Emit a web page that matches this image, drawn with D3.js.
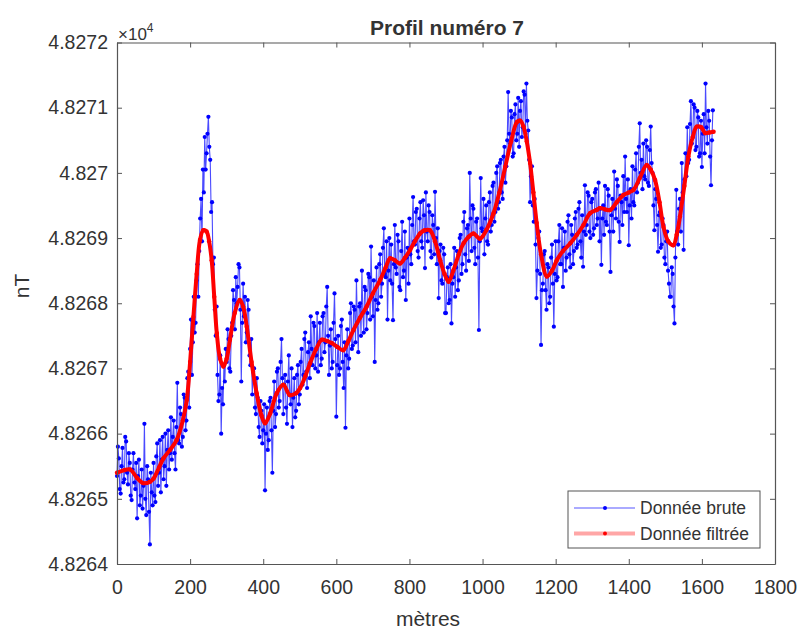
<!DOCTYPE html>
<html><head><meta charset="utf-8">
<script src="https://cdn.jsdelivr.net/npm/d3@7"></script>
<style>
body{margin:0;background:#fff}
svg{display:block}
text{font-family:"Liberation Sans",Arial,Helvetica,sans-serif;fill:#333}
</style>
</head><body><svg id="c" width="799" height="631"></svg>
<script>
// ---------- data ----------
const titleText = "Profil numéro 7";
const xLabelText = "mètres";
const yLabelText = "nT";
const legendLabels = ["Donnée brute", "Donnée filtrée"];
const xTicks = [0, 200, 400, 600, 800, 1000, 1200, 1400, 1600, 1800];
const yTicks = [48264, 48265, 48266, 48267, 48268, 48269, 48270, 48271, 48272];
const rawStep = 2.5; // metres between raw samples
const rawValues = [
48265.35,48265.80,48265.62,48265.15,48265.08,48265.50,48265.78,48265.25,48265.30,48265.95,48265.88,48265.40,48265.22,48265.70,48265.55,48265.05,48264.98,48265.45,48265.70,48265.25,
48265.15,48265.55,48264.70,48265.35,48265.60,48264.90,48265.05,48265.45,48264.85,48265.20,48266.15,48265.00,48264.75,48265.50,48265.30,48264.80,48264.30,48265.40,48265.10,48264.90,
48265.55,48265.05,48264.95,48265.65,48265.85,48265.20,48265.40,48265.90,48265.10,48265.60,48265.95,48265.30,48265.50,48266.00,48265.20,48265.75,48266.05,48265.45,48265.70,48266.25,
48265.60,48265.95,48266.20,48265.70,48265.45,48266.10,48266.78,48265.90,48265.85,48266.40,48266.30,48265.80,48265.95,48266.60,48266.55,48266.05,48266.20,48266.85,48266.95,48266.40,
48267.30,48267.75,48266.90,48267.40,48268.10,48267.55,48267.70,48268.35,48268.60,48268.10,48268.80,48269.30,48269.60,48268.95,48270.05,48269.70,48270.55,48270.05,48270.30,48270.60,
48270.86,48270.40,48270.20,48269.40,48269.55,48268.60,48268.70,48267.90,48267.50,48267.95,48266.90,48266.50,48266.60,48267.20,48266.00,48266.70,48266.45,48267.05,48266.80,48267.30,
48267.10,48267.60,48267.45,48267.00,48266.95,48267.50,48267.70,48268.20,48268.05,48267.60,48268.40,48268.00,48268.25,48268.60,48268.55,48267.90,48266.80,48267.70,48268.30,48267.80,
48268.10,48267.40,48267.55,48268.05,48267.90,48267.20,48267.05,48267.45,48266.60,48266.95,48267.00,48266.40,48266.30,48266.85,48266.55,48266.10,48265.95,48266.50,48266.35,48265.85,
48266.05,48266.45,48265.13,48266.00,48266.40,48265.75,48265.90,48266.50,48266.55,48266.05,48265.40,48266.35,48266.80,48266.10,48266.30,48266.95,48267.00,48266.40,48266.50,48267.10,
48267.45,48266.85,48266.30,48266.75,48266.90,48266.40,48266.15,48266.80,48267.20,48266.60,48266.45,48267.00,48266.10,48266.55,48266.85,48266.25,48266.35,48266.90,48267.05,48266.45,
48266.60,48267.10,48267.30,48266.75,48266.90,48267.45,48267.55,48266.95,48266.70,48267.25,48267.40,48266.85,48267.80,48267.30,48267.05,48267.70,48267.65,48267.00,48267.20,48267.85,
48266.95,48267.40,48267.70,48267.05,48267.15,48267.80,48267.85,48267.25,48267.40,48267.95,48268.25,48267.50,48266.90,48267.35,48267.60,48267.00,48267.10,48267.70,48268.15,48267.45,
48266.26,48267.05,48267.50,48266.90,48267.00,48267.65,48267.75,48267.10,48266.70,48267.40,48266.09,48267.20,48267.60,48267.00,48267.15,48267.85,48268.00,48267.30,48267.35,48267.95,
48267.90,48267.40,48268.35,48267.70,48267.25,48267.95,48268.00,48267.50,48268.50,48267.85,48267.55,48268.25,48268.20,48267.60,48267.85,48268.45,48268.40,48267.75,48268.87,48268.10,
48267.80,48268.35,48267.10,48268.05,48268.55,48267.90,48268.00,48268.60,48268.75,48268.10,48268.30,48268.85,48269.15,48268.45,48268.40,48268.95,48267.75,48268.50,48269.00,48268.35,
48268.90,48268.30,48267.74,48268.60,48269.20,48268.55,48268.45,48269.05,48268.95,48268.25,48268.20,48268.80,48269.25,48268.40,48268.50,48269.10,48268.05,48268.70,48268.85,48268.30,
48269.30,48268.75,48268.60,48269.20,48269.63,48268.95,48268.90,48269.40,48269.45,48268.80,48268.70,48269.30,48269.55,48268.95,48268.85,48269.58,48269.35,48268.54,48269.70,48269.10,
48268.95,48269.50,48269.40,48268.80,48268.70,48269.35,48269.20,48268.75,48269.71,48269.00,48268.60,48269.15,48268.08,48268.80,48268.90,48268.35,48268.30,48268.85,48268.75,48267.85,
48267.85,48268.40,48268.55,48268.00,48268.05,48268.60,48267.69,48268.30,48268.40,48268.85,48268.10,48268.55,48268.80,48268.20,48268.35,48269.00,48269.05,48268.45,48268.60,48269.25,
48269.40,48268.75,48268.50,48269.15,48269.20,48268.65,48270.00,48269.30,48268.80,48269.50,48269.45,48268.85,48268.60,48269.25,48269.30,48268.70,48267.59,48268.95,48269.92,48269.15,
48269.10,48269.60,48268.75,48269.30,48269.50,48268.95,48268.90,48269.55,48269.70,48269.10,48269.20,48269.80,48269.85,48269.25,48269.40,48270.00,48270.10,48269.45,48269.55,48270.15,
48270.20,48269.70,48269.60,48270.25,48270.40,48269.85,48270.10,48270.50,48271.24,48270.60,48270.45,48270.95,48270.85,48270.25,48270.30,48270.90,48271.05,48270.50,48270.60,48271.15,
48270.40,48270.95,48271.10,48270.55,48270.70,48271.25,48271.20,48270.60,48271.37,48270.80,48270.65,48270.20,48269.55,48269.95,48270.10,48269.50,48269.25,48269.60,48268.90,48268.08,
48268.50,48269.00,48269.10,48268.45,48267.36,48268.20,48268.30,48268.75,48268.80,48268.20,48267.90,48268.60,48268.55,48268.00,48268.10,48268.70,48268.90,48268.30,48267.64,48268.45,
48268.95,48268.35,48268.40,48268.95,48269.20,48268.60,48268.60,48269.15,48268.25,48268.85,48269.10,48268.50,48268.70,48269.25,48269.35,48268.75,48268.55,48269.20,48269.05,48268.60,
48268.80,48269.30,48269.40,48268.85,48268.90,48269.45,48269.55,48268.95,48268.70,48269.35,48268.56,48269.10,48269.81,48269.05,48269.20,48269.70,48269.65,48269.10,48269.00,48269.55,
48269.60,48269.05,48269.15,48269.70,48269.75,48269.20,48269.30,48269.85,48268.95,48269.45,48268.59,48269.30,48269.50,48269.05,48269.80,48269.25,48269.20,48269.75,48269.65,48269.10,
48268.48,48269.35,48269.60,48269.10,48270.02,48269.45,48269.30,48269.90,48269.80,48269.25,48268.94,48269.65,48269.55,48269.20,48269.95,48269.40,48270.25,48269.60,48269.40,48269.90,
48268.89,48269.50,48269.75,48269.30,48270.10,48269.55,48269.50,48270.05,48270.30,48269.70,48269.85,48270.40,48270.76,48270.00,48270.20,48269.75,48270.45,48269.95,48269.90,48270.50,
48270.40,48269.85,48269.80,48270.35,48270.71,48270.15,48270.00,48269.50,48269.12,48269.75,48269.60,48269.20,48268.79,48269.35,48269.40,48268.85,48268.90,48269.30,48269.20,48268.70,
48268.60,48268.95,48269.10,48268.50,48268.30,48268.10,48268.10,48268.55,48268.45,48267.95,48267.69,48268.70,48269.74,48269.10,48268.90,48269.45,48269.60,48269.10,48270.15,48269.70,
48268.82,48269.90,48270.30,48269.95,48270.70,48270.15,48270.20,48270.75,48271.10,48270.45,48270.55,48271.05,48271.00,48270.35,48270.40,48270.95,48270.85,48270.25,48270.30,48270.80,
48270.09,48270.60,48270.90,48270.30,48271.37,48270.70,48270.45,48270.95,48270.80,48270.25,48269.81,48270.50,48270.96
];
const filtDist = [0,20,36,55,72,90,100,115,127,145,163,180,191,200,209,218,227,236,245,252,259,266,273,282,291,300,309,322,336,345,355,368,382,395,405,419,437,455,473,490,501,515,528,545,560,575,587,603,619,633,647,665,683,700,720,735,747,760,774,788,802,815,829,842,856,870,884,896,907,920,935,948,962,975,993,1010,1030,1046,1062,1078,1094,1103,1112,1121,1130,1139,1148,1160,1176,1190,1203,1220,1240,1258,1276,1294,1312,1321,1335,1349,1367,1385,1400,1413,1430,1449,1460,1472,1484,1495,1508,1522,1531,1540,1552,1563,1575,1586,1598,1609,1620,1632];
const filtValues = [48265.40,48265.44,48265.45,48265.32,48265.24,48265.26,48265.31,48265.48,48265.62,48265.75,48265.90,48266.20,48266.52,48267.10,48267.79,48268.45,48268.97,48269.12,48269.10,48268.95,48268.66,48268.10,48267.54,48267.15,48267.03,48267.15,48267.44,48267.85,48268.05,48267.95,48267.64,48267.10,48266.62,48266.28,48266.16,48266.31,48266.62,48266.75,48266.59,48266.62,48266.70,48266.88,48267.08,48267.30,48267.44,48267.42,48267.39,48267.33,48267.28,48267.42,48267.59,48267.78,48267.95,48268.15,48268.36,48268.55,48268.69,48268.66,48268.61,48268.70,48268.82,48268.95,48269.07,48269.12,48269.12,48268.95,48268.66,48268.45,48268.33,48268.50,48268.75,48268.92,48269.02,48269.07,48268.99,48269.12,48269.38,48269.70,48270.09,48270.48,48270.78,48270.80,48270.71,48270.48,48270.15,48269.70,48269.23,48268.75,48268.41,48268.50,48268.66,48268.80,48268.92,48269.05,48269.20,48269.38,48269.43,48269.46,48269.44,48269.43,48269.55,48269.66,48269.70,48269.74,48269.92,48270.12,48270.05,48269.89,48269.55,48269.17,48268.95,48268.89,48269.05,48269.33,48269.80,48270.25,48270.55,48270.71,48270.70,48270.61,48270.62,48270.63];

// ---------- chart ----------
const svg = d3.select("#c");
const L = 117, R = 775, T = 42.5, B = 564;
const x = d3.scaleLinear().domain([0, 1800]).range([L, R]);
const y = d3.scaleLinear().domain([48264, 48272]).range([B, T]);
const axisColor = "#555";
const tickFont = "19.5px";

const raw = rawValues.map((v, i) => ({d: i * rawStep, v}));
const filt = filtValues.map((v, i) => ({d: filtDist[i], v}));

const plot = svg.append("g");
const rawLine = d3.line().x(p => x(p.d)).y(p => y(p.v));
plot.append("path").datum(raw).attr("d", rawLine)
  .attr("fill", "none").attr("stroke", "#2a2aff").attr("stroke-width", 1.1).attr("stroke-opacity", 0.85);
plot.selectAll("circle.raw").data(raw).join("circle").attr("class", "raw")
  .attr("cx", p => x(p.d)).attr("cy", p => y(p.v)).attr("r", 2.1).attr("fill", "#0000ff");

const filtLine = d3.line().curve(d3.curveCatmullRom.alpha(0.5)).x(p => x(p.d)).y(p => y(p.v));
plot.append("path").datum(filt).attr("d", filtLine)
  .attr("fill", "none").attr("stroke", "#ff0000").attr("stroke-width", 4).attr("stroke-linejoin", "round");
plot.selectAll("circle.filt").data(filt).join("circle").attr("class", "filt")
  .attr("cx", p => x(p.d)).attr("cy", p => y(p.v)).attr("r", 2.2).attr("fill", "#ff0000");

// axes
const fmtY = v => d3.format(".5~g")(v / 1e4);
const gx = svg.append("g").attr("transform", `translate(0,${B})`)
  .call(d3.axisBottom(x).tickValues(xTicks).tickSizeInner(-5).tickSizeOuter(0).tickPadding(16).tickFormat(d3.format("d")));
const gxt = svg.append("g").attr("transform", `translate(0,${T})`)
  .call(d3.axisTop(x).tickValues(xTicks).tickSizeInner(-5).tickSizeOuter(0).tickFormat(""));
const gy = svg.append("g").attr("transform", `translate(${L},0)`)
  .call(d3.axisLeft(y).tickValues(yTicks).tickSizeInner(-5).tickSizeOuter(0).tickPadding(9).tickFormat(fmtY));
const gyr = svg.append("g").attr("transform", `translate(${R},0)`)
  .call(d3.axisRight(y).tickValues(yTicks).tickSizeInner(-5).tickSizeOuter(0).tickFormat(""));
[gx, gxt, gy, gyr].forEach(g => {
  g.select(".domain").attr("stroke", axisColor).attr("stroke-width", 1.2);
  g.selectAll(".tick line").attr("stroke", axisColor);
  g.selectAll(".tick text").attr("fill", "#3a3a3a").style("font-size", tickFont)
    .style("font-family", '"Liberation Sans",Arial,sans-serif');
});

// exponent label
const expo = svg.append("text").attr("x", 118).attr("y", 40).style("font-size", "17px");
expo.append("tspan").text("×10");
expo.append("tspan").attr("dy", -8).style("font-size", "12px").text("4");

// title & labels
svg.append("text").attr("x", 447).attr("y", 35).attr("text-anchor", "middle")
  .style("font-size", "21px").style("font-weight", "bold").attr("fill", "#222").text(titleText);
svg.append("text").attr("x", 428).attr("y", 626).attr("text-anchor", "middle")
  .style("font-size", "21px").text(xLabelText);
svg.append("text").attr("transform", "translate(29,286) rotate(-90)").attr("text-anchor", "middle")
  .style("font-size", "21px").text(yLabelText);

// legend
const lg = svg.append("g");
lg.append("rect").attr("x", 568).attr("y", 491).attr("width", 192).attr("height", 57)
  .attr("fill", "#fff").attr("stroke", axisColor).attr("stroke-width", 1);
const legendStyles = [
  {stroke: "#3a3aff", width: 1.2, opacity: 0.85, dot: "#0000ff"},
  {stroke: "#ff0000", width: 4, opacity: 0.35, dot: "#ff0000"}
];
legendLabels.forEach((lab, i) => {
  const yy = 508 + i * 25.5;
  lg.append("line").attr("x1", 574).attr("x2", 635).attr("y1", yy).attr("y2", yy)
    .attr("stroke", legendStyles[i].stroke).attr("stroke-width", legendStyles[i].width)
    .attr("stroke-opacity", legendStyles[i].opacity);
  lg.append("circle").attr("cx", 605).attr("cy", yy).attr("r", 2).attr("fill", legendStyles[i].dot);
  lg.append("text").attr("x", 640).attr("y", yy).attr("dy", "0.35em").style("font-size", "17.5px").text(lab);
});
</script>
</body></html>
